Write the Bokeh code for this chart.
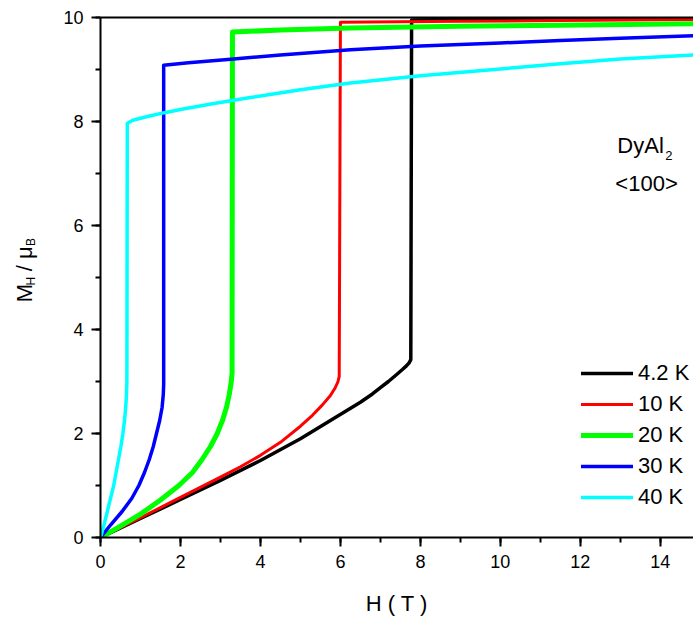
import math
from bokeh.plotting import figure
from bokeh.layouts import row
from bokeh.models import Range1d, LinearAxis, Legend, LegendItem, Label, FixedTicker, SingleIntervalTicker
from bokeh.core.properties import value
from bokeh.embed import file_html
from bokeh.resources import INLINE

# ---- data ----
h_42 = [0, 1, 2, 3, 4, 5, 5.75, 6.5, 6.8, 7.0, 7.2, 7.4, 7.55, 7.65, 7.72, 7.76, 7.78, 10, 12.5, 14.83]
m_42 = [0, 0.365, 0.73, 1.1, 1.48, 1.9, 2.25, 2.6, 2.76, 2.88, 3.0, 3.13, 3.23, 3.3, 3.36, 3.42, 9.95, 9.97, 9.98, 9.99]

h_10 = [0, 1, 2, 3, 3.5, 4.0, 4.5, 5.0, 5.3, 5.55, 5.75, 5.87, 5.94, 5.97, 6.0, 7.5, 9, 11.5, 14.83]
m_10 = [0, 0.38, 0.77, 1.16, 1.36, 1.58, 1.83, 2.14, 2.35, 2.55, 2.73, 2.88, 3.0, 3.1, 9.91, 9.92, 9.93, 9.94, 9.96]

h_20 = [0, 0.5, 1.0, 1.5, 1.96, 2.3, 2.54, 2.75, 2.92, 3.05, 3.15, 3.22, 3.27, 3.29, 3.30, 4.5, 6.25, 9, 11.5, 14.83]
m_20 = [0, 0.22, 0.45, 0.72, 1.0, 1.25, 1.5, 1.75, 2.0, 2.25, 2.5, 2.75, 3.0, 3.15, 9.72, 9.76, 9.80, 9.83, 9.85, 9.88]

h_30 = [0, 0.25, 0.54, 0.78, 0.96, 1.1, 1.22, 1.32, 1.4, 1.48, 1.54, 1.57, 1.58, 1.58, 2.2, 3.33, 4.5, 6.25, 8, 10, 11.5, 13, 14.83]
m_30 = [0, 0.24, 0.5, 0.75, 1.0, 1.25, 1.5, 1.75, 2.0, 2.25, 2.5, 2.75, 2.95, 9.08, 9.13, 9.2, 9.28, 9.38, 9.45, 9.51, 9.56, 9.6, 9.65]

h_40 = [0, 0.09, 0.17, 0.25, 0.33, 0.39, 0.45, 0.51, 0.56, 0.6, 0.63, 0.65, 0.66, 0.67, 0.75, 0.83, 1.2, 1.6, 2, 2.8, 3.75, 5, 6.25, 8, 10, 11.5, 13, 14.83]
m_40 = [0, 0.25, 0.5, 0.75, 1.0, 1.25, 1.5, 1.75, 2.0, 2.25, 2.5, 2.75, 3.0, 7.96, 8.0, 8.03, 8.1, 8.17, 8.23, 8.34, 8.46, 8.61, 8.74, 8.88, 9.01, 9.11, 9.2, 9.28]

series_labels = ["4.2 K", "10 K", "20 K", "30 K", "40 K"]
series_colors = ["#000000", "#ff0000", "#00ff00", "#0000ff", "#00ffff"]
series_widths = [3.5, 3, 5, 3.5, 3.5]

FONT = "Liberation Sans"
LEFT_W = 45

# ---- narrow panel holding the rotated y-axis title (with subscripts) ----
lp = figure(width=LEFT_W, height=621, output_backend="svg", toolbar_location=None,
            x_range=Range1d(0, LEFT_W), y_range=Range1d(0, 621),
            x_axis_type=None, y_axis_type=None,
            min_border_left=0, min_border_right=0, min_border_top=0, min_border_bottom=0)
lp.grid.visible = False
lp.outline_line_color = None
ylab_parts = ["M", "H", "/ μ", "B"]
ylab_x = [24, 30, 24, 30]
ylab_y = [621 - 340, 621 - 320, 621 - 303, 621 - 273]
ylab_sizes = ["22px", "12px", "22px", "12px"]
lp.text(x=ylab_x, y=ylab_y, text=ylab_parts, angle=math.pi / 2,
        text_font=value(FONT), text_font_size=ylab_sizes, text_color="black",
        text_align="left", text_baseline="alphabetic")

# ---- main plot ----
p = figure(width=693 - LEFT_W, height=621, output_backend="svg", toolbar_location=None,
           x_range=Range1d(0, 14.83), y_range=Range1d(0, 10),
           min_border_left=100 - LEFT_W, min_border_right=0, min_border_top=17, min_border_bottom=84)
p.grid.visible = False
p.outline_line_color = None
p.background_fill_color = "white"
p.border_fill_color = "white"

for ax, lab in ((p.xaxis[0], "H ( T )"), (p.yaxis[0], None)):
    ax.ticker = SingleIntervalTicker(interval=2, num_minor_ticks=2)
    ax.axis_line_width = 2
    ax.major_tick_line_width = 2
    ax.minor_tick_line_width = 2
    ax.major_tick_in = 0
    ax.major_tick_out = 9
    ax.minor_tick_in = 0
    ax.minor_tick_out = 5
    ax.major_label_text_font = FONT
    ax.major_label_text_font_size = "18px"
    ax.major_label_text_color = "black"
    ax.major_label_standoff = 8
    ax.axis_label = lab
    ax.axis_label_text_font = FONT
    ax.axis_label_text_font_size = "22px"
    ax.axis_label_text_font_style = "normal"
    ax.axis_label_text_color = "black"
    ax.axis_label_standoff = 20

top = LinearAxis(ticker=FixedTicker(ticks=[]), major_tick_out=0, major_tick_in=0,
                 minor_tick_out=0, minor_tick_in=0, major_label_text_font_size="0px",
                 axis_line_width=2)
p.add_layout(top, "above")

xs = [h_42, h_10, h_20, h_30, h_40]
ys = [m_42, m_10, m_20, m_30, m_40]
items = []
for x, y, lab, col, w in zip(xs, ys, series_labels, series_colors, series_widths):
    r = p.line(x, y, line_color=col, line_width=w, line_join="round", line_cap="round")
    items.append(LegendItem(label=lab, renderers=[r]))

leg = Legend(items=items, location=(481, 27), padding=0, margin=0, spacing=5,
             glyph_height=22, glyph_width=52, label_height=22, label_standoff=5,
             label_text_font=FONT, label_text_font_size="22px", label_text_color="black",
             border_line_color=None, background_fill_alpha=0)
p.add_layout(leg, "center")

def lbl(x, y, text, size):
    p.add_layout(Label(x=x, y=y, text=text, text_font=FONT, text_font_size=size,
                       text_align="left", text_baseline="alphabetic", text_color="black"))

# annotation DyAl2 <100>
lbl(12.925, 7.538, "DyAl", "22px")
lbl(14.125, 7.346, "2", "13px")
lbl(12.875, 6.808, "<100>", "22px")

layout = row(lp, p, spacing=0)
open("out.html", "w").write(file_html(layout, INLINE))
